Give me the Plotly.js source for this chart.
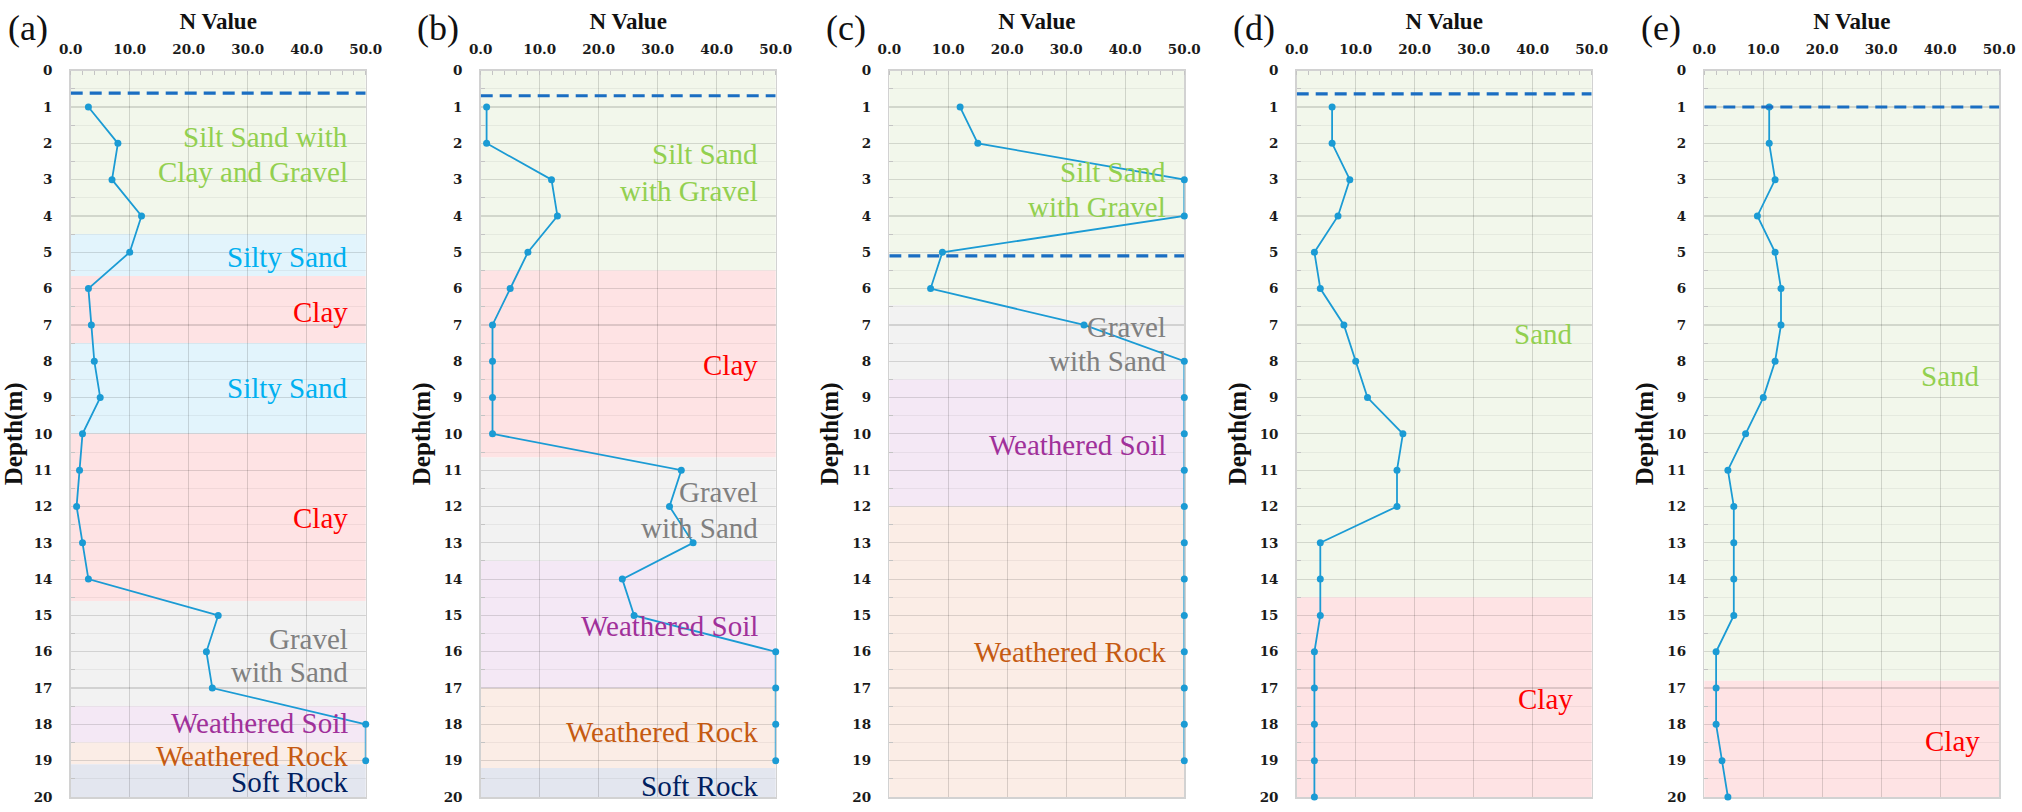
<!DOCTYPE html>
<html>
<head>
<meta charset="utf-8">
<script src="https://cdn.plot.ly/plotly-3.0.1.min.js"></script>
<style>html,body{margin:0;padding:0;background:#fff;}#chart{width:2022px;height:812px;}</style>
</head>
<body>
<div id="chart"></div>
<script>
// ---------------- DATA ----------------
const panelNames = ["(a)", "(b)", "(c)", "(d)", "(e)"];
const depths19 = [1,2,3,4,5,6,7,8,9,10,11,12,13,14,15,16,17,18,19];
const depths20 = [1,2,3,4,5,6,7,8,9,10,11,12,13,14,15,16,17,18,19,20];

const nValueA = [3,8,7,12,10,3,3.5,4,5,2,1.5,1,2,3,25,23,24,50,50];
const nValueB = [1,1,12,13,8,5,2,2,2,2,34,32,36,24,26,50,50,50,50];
const nValueC = [12,15,50,50,9,7,33,50,50,50,50,50,50,50,50,50,50,50,50];
const nValueD = [6,6,9,7,3,4,8,10,12,18,17,17,4,4,4,3,3,3,3,3];
const nValueE = [11,11,12,9,12,13,13,12,10,7,4,5,5,5,5,2,2,2,3,4];

const waterTableDepth = [0.62, 0.69, 5.1, 0.64, 1.0];

// soil layers: [top depth, bottom depth, soil type]
const layersA = [[0,4.5,"silt"],[4.5,5.65,"silty"],[5.65,7.5,"clay"],[7.5,10,"silty"],[10,14.6,"clay"],[14.6,17.5,"gravel"],[17.5,18.5,"wsoil"],[18.5,19.1,"wrock"],[19.1,20,"soft"]];
const layersB = [[0,5.5,"silt"],[5.5,10.65,"clay"],[10.65,13.5,"gravel"],[13.5,17,"wsoil"],[17,19.2,"wrock"],[19.2,20,"soft"]];
const layersC = [[0,6.45,"silt"],[6.45,8.5,"gravel"],[8.5,12,"wsoil"],[12,20,"wrock"]];
const layersD = [[0,14.5,"silt"],[14.5,20,"clay"]];
const layersE = [[0,16.8,"silt"],[16.8,20,"clay"]];

// layer label lines: [text, soil type]
const labelsA = [["Silt Sand with","silt"],["Clay and Gravel","silt"],["Silty Sand","silty"],["Clay","clay"],["Silty Sand","silty"],["Clay","clay"],["Gravel","gravel"],["with Sand","gravel"],["Weathered Soil","wsoil"],["Weathered Rock","wrock"],["Soft Rock","soft"]];
const labelsB = [["Silt Sand","silt"],["with Gravel","silt"],["Clay","clay"],["Gravel","gravel"],["with Sand","gravel"],["Weathered Soil","wsoil"],["Weathered Rock","wrock"],["Soft Rock","soft"]];
const labelsC = [["Silt Sand","silt"],["with Gravel","silt"],["Gravel","gravel"],["with Sand","gravel"],["Weathered Soil","wsoil"],["Weathered Rock","wrock"]];
const labelsD = [["Sand","silt"],["Clay","clay"]];
const labelsE = [["Sand","silt"],["Clay","clay"]];

const xTickVals = [0,10,20,30,40,50];
const xTickText = ["0.0","10.0","20.0","30.0","40.0","50.0"];

// ---------------- STYLE / LAYOUT ----------------
const bandColor = {silt:"#F2F7EB", silty:"#E2F4FC", clay:"#FEE3E4", gravel:"#F2F2F2", wsoil:"#F4E8F5", wrock:"#FBEDE6", soft:"#E3E6EF"};
const textColor = {silt:"#92D050", silty:"#00B0F0", clay:"#FF0000", gravel:"#808080", wsoil:"#A0309A", wrock:"#C55A11", soft:"#002060"};

// label vertical positions (depth) per panel, matching the label lists
const labelPosA = [1.82,2.78,5.12,6.64,8.75,12.33,15.64,16.56,17.97,18.88,19.59];
const labelPosB = [2.3,3.3,8.1,11.6,12.6,15.3,18.2,19.7];
const labelPosC = [2.78,3.75,7.05,8.0,10.3,16.0];
const labelPosD = [7.26,17.3];
const labelPosE = [8.4,18.47];

const W = 2022, H = 812;
const panelLeft = [70.7, 480.7, 889.3, 1296.7, 1704.3];
const panelWidth = 295;
const plotTop = 70.7, plotBottom = 797;

const values = [nValueA,nValueB,nValueC,nValueD,nValueE];
const depthSets = [depths19,depths19,depths19,depths20,depths20];
const layerSets = [layersA,layersB,layersC,layersD,layersE];
const labelSets = [labelsA,labelsB,labelsC,labelsD,labelsE];
const labelPosSets = [labelPosA,labelPosB,labelPosC,labelPosD,labelPosE];
const labelRight = [0.946,0.946,0.946,0.942,0.942];

const tickFont = {family:"DejaVu Serif", size:13.5, color:"#1a1a1a", weight:"bold"};
const titleFont = {family:"Liberation Serif", size:23, color:"#111", weight:"bold"};

const traces = [];
const shapes = [];
const annotations = [];
const layout = {
  width: W, height: H,
  margin: {l:0, r:0, t:0, b:0},
  paper_bgcolor: "#ffffff",
  plot_bgcolor: "#ffffff",
  showlegend: false,
  shapes: shapes,
  annotations: annotations
};

for (let i = 0; i < 5; i++) {
  const sfx = i === 0 ? "" : String(i + 1);
  const xa = "x" + sfx, ya = "y" + sfx;
  const d0 = panelLeft[i] / W, d1 = (panelLeft[i] + panelWidth) / W;

  layout["xaxis" + sfx] = {
    domain: [d0, d1], anchor: ya, side: "top", layer: "below traces",
    range: [0, 50], tickmode: "array", tickvals: xTickVals, ticktext: xTickText,
    tickfont: tickFont, ticks: "", ticklabelstandoff: 10,
    showgrid: true, gridcolor: "rgba(0,0,0,0.14)", gridwidth: 1.2,
    zeroline: false, showline: true, linecolor: "#d2d2d2", linewidth: 1.5, mirror: true,
    minor: {dtick: 2, ticks: "inside", ticklen: 4, tickcolor: "#c4c4c4", tickwidth: 1, showgrid: false},
    title: {text: "N Value", font: titleFont, standoff: 4},
    fixedrange: true
  };
  layout["yaxis" + sfx] = {
    domain: [1 - plotBottom / H, 1 - plotTop / H], anchor: xa, layer: "below traces",
    range: [20, 0], dtick: 1, tick0: 0,
    tickfont: tickFont, ticks: "", ticklabelstandoff: 14,
    showgrid: true, gridcolor: "rgba(0,0,0,0.13)", gridwidth: 1.2,
    zeroline: false, showline: true, linecolor: "#d2d2d2", linewidth: 1.5, mirror: true,
    minor: {dtick: 0.5, ticks: "inside", ticklen: 4, tickcolor: "#c4c4c4", showgrid: true, gridcolor: "rgba(0,0,0,0.05)", gridwidth: 1},
    title: {text: "Depth(m)", font: {family:"Liberation Serif", size:25, color:"#111", weight:"bold"}, standoff: 6},
    fixedrange: true
  };

  // soil bands
  layerSets[i].forEach(L => {
    shapes.push({type:"rect", xref: xa + " domain", yref: ya, x0: 0, x1: 1, y0: L[0], y1: L[1],
      fillcolor: bandColor[L[2]], line: {width: 0}, layer: "below"});
  });

  // layer labels
  labelSets[i].forEach((lb, k) => {
    annotations.push({xref: xa + " domain", yref: ya, x: labelRight[i], y: labelPosSets[i][k],
      xanchor: "right", yanchor: "middle", text: lb[0], showarrow: false,
      font: {family: "Liberation Serif", size: 29, color: textColor[lb[1]]}});
  });

  // panel letter
  annotations.push({xref: "paper", yref: "paper", x: (panelLeft[i] - 43) / W, y: 1 - 28 / H,
    xanchor: "center", yanchor: "middle", text: panelNames[i], showarrow: false,
    font: {family: "Liberation Serif", size: 36, color: "#111"}});

  // SPT N-value profile
  traces.push({type: "scatter", mode: "lines+markers", xaxis: xa, yaxis: ya,
    x: values[i], y: depthSets[i], cliponaxis: false,
    line: {color: "#1B9BD4", width: 1.8}, marker: {color: "#1B9BD4", size: 7},
    hoverinfo: "x+y"});

  // ground water table
  traces.push({type: "scatter", mode: "lines", xaxis: xa, yaxis: ya,
    x: [0, 50], y: [waterTableDepth[i], waterTableDepth[i]], cliponaxis: false,
    line: {color: "#1A6EC2", width: 3.2, dash: "12px,7px"}, hoverinfo: "skip"});
}

Plotly.newPlot("chart", traces, layout, {displayModeBar: false, staticPlot: true});
</script>
</body>
</html>
